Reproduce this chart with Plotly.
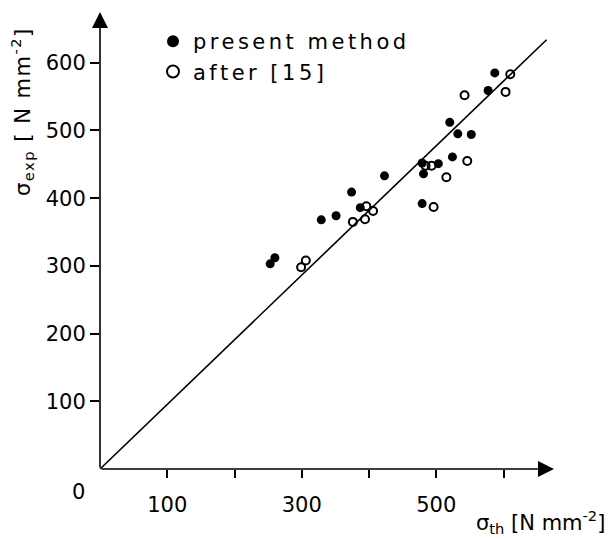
import plotly.graph_objects as go

# ---- data ----
present_x = [253, 260, 329, 351, 374, 387, 423, 479, 481, 503, 524, 520, 532, 552, 577, 587, 479]
present_y = [303, 312, 368, 374, 409, 386, 433, 452, 436, 451, 461, 512, 495, 494, 559, 585, 392]
after_x = [299, 306, 376, 394, 396, 406, 484, 493, 515, 496, 546, 542, 603, 610]
after_y = [298, 308, 365, 369, 388, 381, 448, 448, 431, 387, 455, 552, 557, 583]
line_x = [0, 664]
line_y = [0, 634]
x_tickvals = [100, 200, 300, 400, 500, 600]
x_ticktext = ["100", "", "300", "", "500", ""]
y_tickvals = [100, 200, 300, 400, 500, 600]
y_ticktext = ["100", "200", "300", "400", "500", "600"]
axis_max = 675

# the page body keeps an 8px margin, so the figure is shifted by it
OFF = 8
W, H = 613 - OFF, 539 - OFF
L, T = 100 - OFF, 12 - OFF
PW, PH = 454, 457
R, B = W - L - PW, H - T - PH


def px(xp):
    return (xp - OFF - L) / PW


def py(yp):
    return (T + PH - (yp - OFF)) / PH


FONT = "DejaVu Sans"
SP = "letter-spacing:3.5px"

fig = go.Figure()
fig.add_trace(go.Scatter(x=line_x, y=line_y, mode="lines",
                         line=dict(color="black", width=1.6),
                         showlegend=False, hoverinfo="skip"))
fig.add_trace(go.Scatter(x=present_x, y=present_y, mode="markers",
                         name=f'<span style="{SP}">present method</span>',
                         marker=dict(symbol="circle", size=9, color="black"),
                         cliponaxis=False))
fig.add_trace(go.Scatter(x=after_x, y=after_y, mode="markers",
                         name=f'<span style="{SP}">after [15]</span>',
                         marker=dict(symbol="circle-open", size=8, color="black",
                                     line=dict(width=2, color="black")),
                         cliponaxis=False))

# axis arrows
fig.add_annotation(x=axis_max, y=0, ax=0, ay=0, xref="x", yref="y", axref="x", ayref="y",
                   text="", showarrow=True, arrowhead=2, arrowsize=2, arrowwidth=1.6,
                   arrowcolor="black", standoff=0)
fig.add_annotation(x=0, y=axis_max, ax=0, ay=0, xref="x", yref="y", axref="x", ayref="y",
                   text="", showarrow=True, arrowhead=2, arrowsize=2, arrowwidth=1.6,
                   arrowcolor="black", standoff=0)

lab = dict(xref="paper", yref="paper", showarrow=False, xanchor="center", yanchor="middle",
           font=dict(family=FONT, size=21, color="black"))
fig.add_annotation(x=px(78), y=py(492), text="0", **lab)
fig.add_annotation(x=px(22), y=py(112),
                   text='<span style="letter-spacing:1.5px">σ<sub>exp</sub> [ N mm<sup>-2</sup>]</span>',
                   textangle=-90, **lab)
fig.add_annotation(x=px(540), y=py(522),
                   text="σ<sub>th</sub> [N mm<sup>-2</sup>]", **lab)

fig.update_layout(
    width=W, height=H,
    margin=dict(l=L, r=R, t=T, b=B),
    paper_bgcolor="white", plot_bgcolor="white",
    font=dict(family=FONT, size=21, color="black"),
    showlegend=True,
    legend=dict(x=px(153), y=py(21), xanchor="left", yanchor="top",
                bgcolor="rgba(0,0,0,0)", font=dict(family=FONT, size=21, color="black"),
                itemsizing="constant", tracegroupgap=0),
    xaxis=dict(range=[0, axis_max], tickvals=x_tickvals, ticktext=x_ticktext,
               ticks="outside", ticklen=8, tickwidth=1.5, tickcolor="black",
               showline=False, zeroline=False, showgrid=False,
               ticklabelstandoff=9, tickfont=dict(family=FONT, size=21, color="black")),
    yaxis=dict(range=[0, axis_max], tickvals=y_tickvals, ticktext=y_ticktext,
               ticks="outside", ticklen=9, tickwidth=1.5, tickcolor="black",
               showline=False, zeroline=False, showgrid=False,
               tickfont=dict(family=FONT, size=21, color="black")),
)

fig.write_html("out.html")
